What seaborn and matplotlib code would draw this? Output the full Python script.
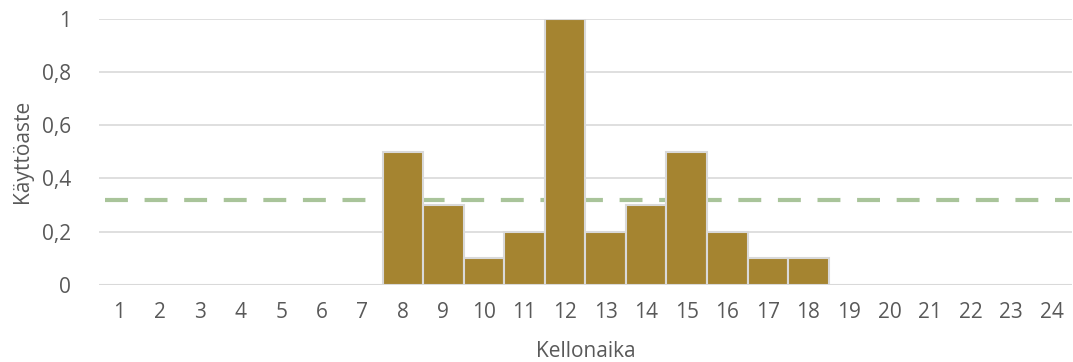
import pandas as pd
import matplotlib.pyplot as plt
import seaborn as sns
from matplotlib.ticker import FuncFormatter

# hours of day and utilisation rate
hours = list(range(1, 25))
usage = [0, 0, 0, 0, 0, 0, 0, 0.5, 0.3, 0.1, 0.2, 1.0,
         0.2, 0.3, 0.5, 0.2, 0.1, 0.1, 0, 0, 0, 0, 0, 0]
average = 0.318

df = pd.DataFrame({'Kellonaika': hours, 'Käyttöaste': usage})

sns.set_style('white')
plt.rcParams['font.family'] = ['Open Sans', 'DejaVu Sans']

fig = plt.figure(figsize=(10.73, 3.62), dpi=100)
ax = fig.add_axes([0.092, 0.213, 0.907, 0.735])

sns.barplot(x='Kellonaika', y='Käyttöaste', data=df, color='#A58430',
            saturation=1, width=1.0, edgecolor='#D9D9D9', linewidth=1.5,
            ax=ax, zorder=3)
ax.axhline(average, color='#A9C49A', linestyle=(0, (5.5, 4)), linewidth=3,
           xmin=0.006, xmax=0.998, zorder=2)

ax.set_ylim(0, 1)
ax.set_xlim(-0.5, 23.5)
ax.set_yticks([0, 0.2, 0.4, 0.6, 0.8, 1])
ax.yaxis.set_major_formatter(FuncFormatter(lambda v, p: ('%g' % round(v, 1)).replace('.', ',')))
ax.grid(axis='y', color='#D9D9D9', linewidth=1.2, zorder=0)
ax.set_axisbelow(True)
for s in ax.spines.values():
    s.set_visible(False)
ax.tick_params(axis='both', length=0, labelsize=15, colors='#595959')
ax.tick_params(axis='x', pad=12)
ax.tick_params(axis='y', pad=20)
ax.set_xlabel('Kellonaika', fontsize=15, color='#595959', labelpad=13)
ax.set_ylabel('Käyttöaste', fontsize=15, color='#595959', labelpad=6)

fig.savefig('out.png', dpi=100)
